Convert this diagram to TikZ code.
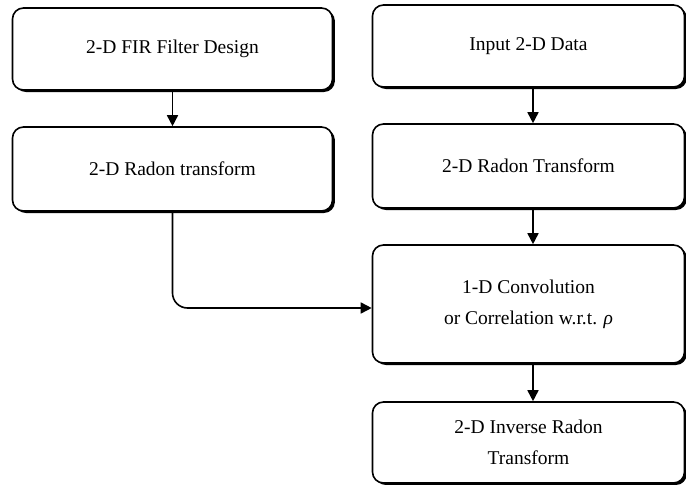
\documentclass[tikz,border=0pt]{standalone}
\usepackage{fontspec}
\setmainfont{Liberation Serif}
\usetikzlibrary{arrows.meta,shadows}
\begin{document}
\begin{tikzpicture}[x=1pt,y=1pt,
  stage/.style={draw=black, line width=1.6pt, fill=white,
    rounded corners=11pt, align=center, inner sep=0pt,
    font=\fontsize{19.5}{31}\selectfont,
    drop shadow={shadow xshift=2.4pt, shadow yshift=-2pt, fill=black, opacity=1}},
  flow/.style={line width=1.6pt, -{Triangle[length=11pt,width=11pt]}}]
\useasboundingbox (0,0) rectangle (686,-485);

% left column
\node[stage, minimum width=320pt, minimum height=82pt] (fir) at (172.5,-49) {2-D FIR Filter Design};
\node[stage, minimum width=320pt, minimum height=84pt] (radL) at (172.5,-169) {2-D Radon transform};

% right column
\node[stage, minimum width=312pt, minimum height=82pt] (inp) at (528.5,-46) {Input 2-D Data};
\node[stage, minimum width=312pt, minimum height=84pt] (radR) at (528.5,-166) {2-D Radon Transform};
\node[stage, minimum width=312pt, minimum height=118pt] (conv) at (528.5,-304) {1-D Convolution\\or Correlation w.r.t. \textit{ρ}};
\node[stage, minimum width=312pt, minimum height=81pt] (inv) at (528.5,-442.5) {2-D Inverse Radon\\Transform};

% connectors
\draw[flow] (fir.south) -- (radL.north);
\draw[flow] ([xshift=4.5pt]inp.south) -- ([xshift=4.5pt]radR.north);
\draw[flow] ([xshift=4.5pt]radR.south) -- ([xshift=4.5pt]conv.north);
\draw[flow] ([xshift=4.5pt]conv.south) -- ([xshift=4.5pt]inv.north);
\draw[flow, rounded corners=15pt] (radL.south) |- ([yshift=-4pt]conv.west);
\end{tikzpicture}
\end{document}
